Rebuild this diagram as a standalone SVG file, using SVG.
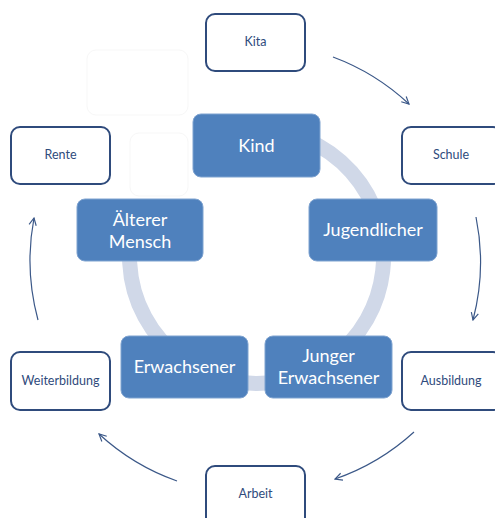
<svg xmlns="http://www.w3.org/2000/svg" width="495" height="518" viewBox="0 0 495 518">
<style>
.outer rect{fill:#fff;stroke:#2f4b7c;stroke-width:2}
.outer text{font-family:Lato,"Open Sans","Liberation Sans",sans-serif;font-size:12.5px;fill:#2f4b7c;text-anchor:middle}
.inner rect{fill:#4f81bd;stroke:#7fa3d0;stroke-width:1}
.inner text{font-family:Lato,"Open Sans","Liberation Sans",sans-serif;font-size:18px;fill:#fff;text-anchor:middle}
.ghost{fill:#fff;stroke:#f7f7f7;stroke-width:1}
.arr{fill:none;stroke:#3b5888;stroke-width:1.2;marker-end:url(#ah)}
</style>
<defs>
<marker id="ah" viewBox="0 0 10 10" refX="9" refY="5" markerWidth="9" markerHeight="9" markerUnits="userSpaceOnUse" orient="auto">
<path d="M1,1 L9,5 L1,9" fill="none" stroke="#3b5888" stroke-width="1.3"/>
</marker>
</defs>
<rect width="495" height="518" fill="#fff"/>
<path id="ring" d="M256.5,129.5 A127,127 0 1 1 137.2,213.1" fill="none" stroke="#d0d8e8" stroke-width="15"/>
<rect class="ghost" x="87" y="50" width="101" height="65" rx="9"/>
<rect class="ghost" x="130" y="133" width="58" height="63" rx="9"/>
<g id="connectors">
<path class="arr" d="M333,57 A227,227 0 0 1 409,104"/>
<path class="arr" d="M476,217 A227,227 0 0 1 473,320"/>
<path class="arr" d="M414,432 A227,227 0 0 1 335,479"/>
<path class="arr" d="M177,481 A227,227 0 0 1 99,434"/>
<path class="arr" d="M38,320 A227,227 0 0 1 34,218"/>
</g>
<g id="kita" class="outer"><rect x="206" y="14" width="99" height="57" rx="9"/><text x="255.5" y="46">Kita</text></g>
<g id="schule" class="outer"><rect x="402" y="127" width="100" height="57" rx="9"/><text x="451" y="159">Schule</text></g>
<g id="ausbildung" class="outer"><rect x="402" y="352" width="100" height="58" rx="9"/><text x="451" y="385">Ausbildung</text></g>
<g id="arbeit" class="outer"><rect x="206" y="466" width="99" height="60" rx="9"/><text x="255.5" y="498">Arbeit</text></g>
<g id="weiterbildung" class="outer"><rect x="11" y="352" width="99" height="58" rx="9"/><text x="60.5" y="385">Weiterbildung</text></g>
<g id="rente" class="outer"><rect x="11" y="127" width="99" height="57" rx="9"/><text x="60.5" y="159">Rente</text></g>
<g id="kind" class="inner"><rect x="193" y="114" width="127" height="63" rx="8"/><text x="256.5" y="152">Kind</text></g>
<g id="jugendlicher" class="inner"><rect x="309" y="199" width="128" height="62" rx="8"/><text x="373" y="236">Jugendlicher</text></g>
<g id="junger-erwachsener" class="inner"><rect x="265" y="336" width="127" height="62" rx="8"/><text x="328.5" y="362">Junger</text><text x="328.5" y="384">Erwachsener</text></g>
<g id="erwachsener" class="inner"><rect x="121" y="336" width="127" height="62" rx="8"/><text x="184.5" y="373">Erwachsener</text></g>
<g id="aelterer-mensch" class="inner"><rect x="77" y="199" width="126" height="62" rx="8"/><text x="140" y="226">Älterer</text><text x="140" y="248">Mensch</text></g>
</svg>
